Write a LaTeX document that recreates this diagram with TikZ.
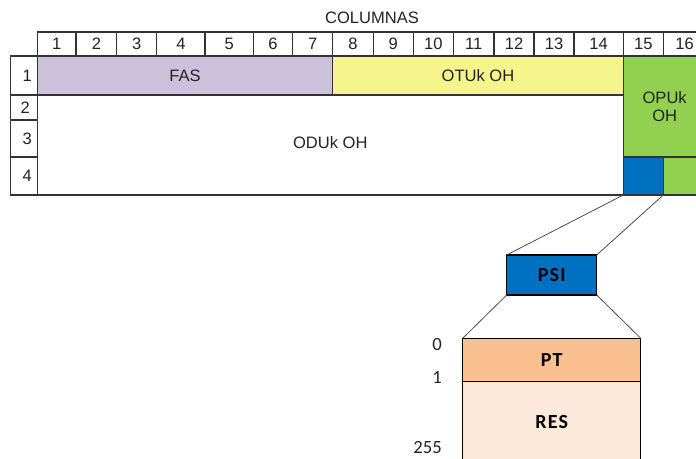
\documentclass[tikz,border=0pt]{standalone}
\usepackage{fontspec}
\setmainfont{Liberation Sans}
\newfontfamily\calfont{Carlito}
\newfontfamily\calsp[LetterSpace=6]{Carlito}
\definecolor{fascol}{HTML}{CCC1DA}
\definecolor{otucol}{HTML}{F5F58C}
\definecolor{opucol}{HTML}{92D050}
\definecolor{psicol}{HTML}{0070C0}
\definecolor{ptcol}{HTML}{FAC090}
\definecolor{rescol}{HTML}{FDE9D9}
\definecolor{linecol}{HTML}{333333}
\definecolor{txtcol}{HTML}{222222}
\newcommand\mybox[7]{\node[#1, minimum width={(#4-#2)*0.75pt}, minimum height={(#5-#3)*0.75pt}] (#6) at ({(#2+#4)/2},{(#3+#5)/2}) {#7};}
\begin{document}
\begin{tikzpicture}[x=0.75pt,y=-0.75pt,
  cell/.style={draw=linecol, line width=0.8pt, inner sep=0pt, outer sep=0pt, text=txtcol, font=\fontsize{12.4}{13.5}\selectfont},
  big/.style={cell, draw=black, text=black, font=\calsp\bfseries\fontsize{15}{17}\selectfont},
  idx/.style={anchor=east, inner sep=0pt, text=txtcol, font=\calfont\fontsize{14}{16}\selectfont},
  conn/.style={draw=black!70, line width=0.6pt}]
\useasboundingbox (0,0) rectangle (696,459);
\clip (0,0) rectangle (696,459);
\node[font=\fontsize{12.4}{13.5}\selectfont, text=txtcol, inner sep=0pt] (cols) at (372,18) {COLUMNAS};
\foreach \a/\b/\n in {37.3/76/1, 76/116.7/2, 116.7/156.7/3, 156.7/205/4, 205/253.3/5, 253.3/292.7/6, 292.7/332.7/7, 332.7/373.3/8, 373.3/413.3/9, 413.3/453.3/10, 453.3/494/11, 494/534/12, 534/574/13, 574/623.3/14, 623.3/663.3/15, 663.3/706/16}{
  \mybox{cell}{\a}{32}{\b}{56}{c\n}{\n}
}
\mybox{cell}{10.7}{56}{37.3}{95}{r1}{\hspace*{5pt}1}
\mybox{cell}{10.7}{95}{37.3}{120}{r2}{\hspace*{2pt}2}
\mybox{cell}{10.7}{120}{37.3}{157}{r3}{\hspace*{5pt}3}
\mybox{cell}{10.7}{157}{37.3}{195}{r4}{\hspace*{5pt}4}
\mybox{cell,fill=fascol}{37.3}{56}{332.7}{95}{fas}{FAS}
\mybox{cell,fill=otucol}{332.7}{56}{623.3}{95}{otu}{OTUk OH}
\mybox{cell,fill=opucol,align=center}{623.3}{56}{706}{157}{opu}{OPUk\\OH}
\mybox{cell}{37.3}{95}{623.3}{195}{odu}{\raisebox{3pt}{ODUk OH}}
\mybox{cell,fill=psicol}{623.3}{157}{663.3}{195}{psis}{}
\mybox{cell,fill=opucol}{663.3}{157}{706}{195}{opus}{}
\mybox{big,fill=psicol}{506.7}{255}{596.7}{295}{psi}{PSI}
\mybox{big,fill=ptcol}{462.7}{338.3}{640.7}{381.7}{pt}{PT}
\mybox{big,fill=rescol}{462.7}{381.7}{640.7}{462}{res}{RES}
\node[idx] (i0) at (442,345) {0};
\node[idx] (i1) at (442,377.5) {1};
\node[idx] (i255) at (442,448) {255};
\draw[conn] (psis.south west) -- (psi.north west);
\draw[conn] (psis.south east) -- (psi.north east);
\draw[conn] (psi.south west) -- (pt.north west);
\draw[conn] (psi.south east) -- (pt.north east);
\end{tikzpicture}
\end{document}
